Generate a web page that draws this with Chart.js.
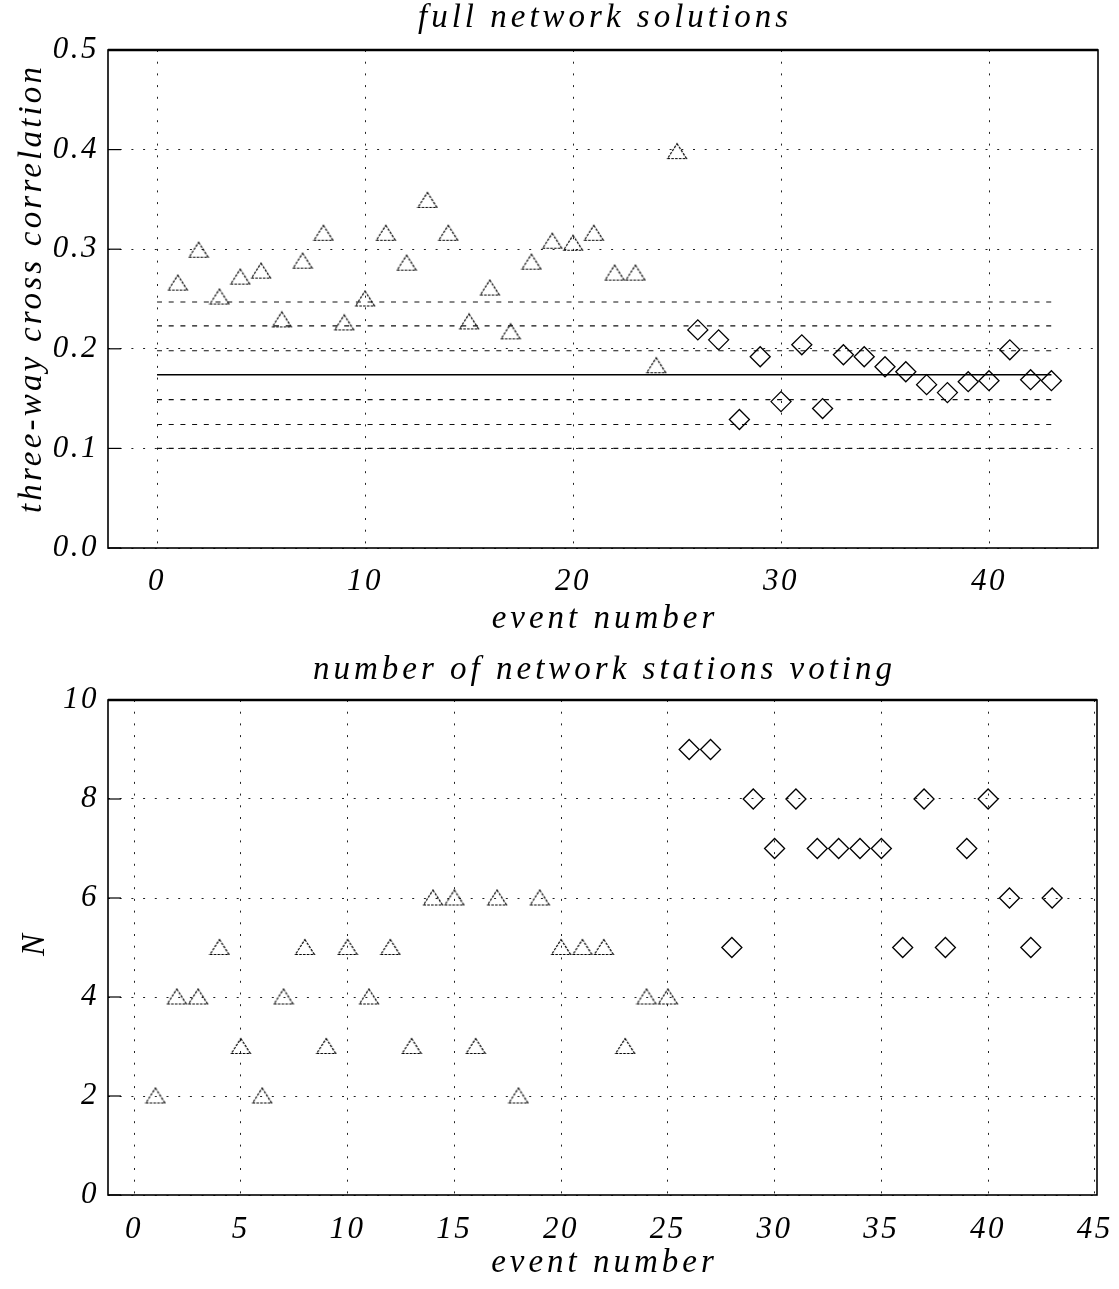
<!DOCTYPE html>
<html>
<head>
<meta charset="utf-8">
<script src="https://cdn.jsdelivr.net/npm/chart.js@4.4.0/dist/chart.umd.min.js"></script>
<style>
  body { margin: 0; background: #fff; }
  .panel { position: absolute; left: 0; width: 1119px; }
  #p1 { top: 0; height: 640px; }
  #p2 { top: 640px; height: 649px; }
</style>
</head>
<body>
<div class="panel" id="p1"><canvas id="corr" width="1119" height="640"></canvas></div>
<div class="panel" id="p2"><canvas id="votes" width="1119" height="649"></canvas></div>
<script>
// events 1-25 (triangles) and 26-43 (diamonds)
const eventsA = [1,2,3,4,5,6,7,8,9,10,11,12,13,14,15,16,17,18,19,20,21,22,23,24,25];
const eventsB = [26,27,28,29,30,31,32,33,34,35,36,37,38,39,40,41,42,43];

// three-way cross correlation
const corrA = [0.266,0.299,0.252,0.272,0.278,0.229,0.288,0.316,0.226,0.250,0.316,0.286,0.349,0.316,0.227,
               0.261,0.217,0.287,0.308,0.306,0.316,0.276,0.276,0.183,0.398];
const corrB = [0.219,0.209,0.129,0.192,0.147,0.204,0.140,0.194,0.192,0.182,0.177,0.164,0.156,0.167,0.168,
               0.199,0.169,0.168];

// mean line and the +/- bands drawn across events 0..43
const meanLevel = 0.174;
const bandLevels = [0.100,0.124,0.149,0.198,0.223,0.247];
const bandSpan = [0, 43];

// number of stations voting
const votesA = [2,4,4,5,3,2,4,5,3,5,4,5,3,6,6,3,6,2,6,5,5,5,3,4,4];
const votesB = [9,9,5,8,7,8,7,7,7,7,5,8,5,7,8,6,5,6];

const FONT = '"Liberation Serif", "DejaVu Serif", serif';
const tickFont = { family: FONT, size: 31, style: 'italic' };
const LABEL = 'italic 33px ' + FONT;

// dotted hollow triangle used as the point style
function triangleMarker() {
  const c = document.createElement('canvas');
  c.width = 22; c.height = 19;
  const g = c.getContext('2d');
  g.strokeStyle = '#000';
  g.lineWidth = 1.2;
  g.setLineDash([2.6, 1.2]);
  g.beginPath();
  g.moveTo(11, 1.5); g.lineTo(20.5, 16.5); g.lineTo(1.5, 16.5); g.closePath();
  g.stroke();
  return c;
}
const tri = triangleMarker();

function label(ctx, text, x, y, rot, spacing) {
  ctx.save();
  ctx.translate(x, y);
  if (rot) ctx.rotate(rot);
  ctx.font = LABEL;
  ctx.letterSpacing = spacing + 'px';
  ctx.fillStyle = '#000';
  ctx.textAlign = 'center';
  ctx.textBaseline = 'middle';
  ctx.fillText(text, spacing / 2, 0);
  ctx.restore();
}

// frame, inward ticks on the left side, and the titles
const frame = {
  id: 'frame',
  beforeUpdate(chart) { chart.ctx.letterSpacing = '2.5px'; },
  beforeDraw(chart) { chart.ctx.letterSpacing = '2.5px'; },
  afterDraw(chart, args, o) {
    const { ctx, chartArea: a, scales } = chart;
    ctx.save();
    ctx.letterSpacing = '0px';
    ctx.strokeStyle = '#000';
    ctx.lineWidth = 1.6;
    ctx.strokeRect(a.left, a.top, a.right - a.left, a.bottom - a.top);
    ctx.lineWidth = 2.4;
    ctx.beginPath();
    ctx.moveTo(a.left, a.top);
    ctx.lineTo(a.right, a.top);
    ctx.stroke();
    ctx.lineWidth = 1.2;
    scales.y.ticks.forEach(t => {
      const py = scales.y.getPixelForValue(t.value);
      ctx.beginPath();
      ctx.moveTo(a.left, py);
      ctx.lineTo(a.left + 13, py);
      ctx.stroke();
    });
    ctx.restore();
    const cx = (a.left + a.right) / 2;
    label(ctx, o.title, cx, o.titleY, 0, 4);
    label(ctx, o.xTitle, cx, o.xTitleY, 0, 4);
    label(ctx, o.yTitle, o.yTitleX, o.yTitleY, -Math.PI / 2, 3.2);
  }
};

const gridOpts = { color: '#222', lineWidth: 1, drawTicks: false };
const borderOpts = { display: false, dash: [2, 9.7] };
const noEdgePad = s => { s.paddingLeft = 0; s.paddingRight = 0; };

function pts(xs, ys) { return xs.map((x, i) => ({ x: x, y: ys[i] })); }

const triSet = (data) => ({
  data: data, pointStyle: tri, pointRadius: 10, pointHoverRadius: 10, showLine: false, order: 1
});
const diaSet = (data) => ({
  data: data, pointStyle: 'rectRot', pointRadius: 10, pointHoverRadius: 10,
  borderColor: '#000', backgroundColor: 'rgba(0,0,0,0)', borderWidth: 1.3, showLine: false, order: 1
});

const lineSets = bandLevels.map(v => ({
  data: [{ x: bandSpan[0], y: v }, { x: bandSpan[1], y: v }],
  showLine: true, pointRadius: 0, borderColor: '#111', borderWidth: 1.1, borderDash: [5, 6.7], order: 2
}));
lineSets.push({
  data: [{ x: bandSpan[0], y: meanLevel }, { x: bandSpan[1], y: meanLevel }],
  showLine: true, pointRadius: 0, borderColor: '#000', borderWidth: 1.6, order: 2
});

new Chart(document.getElementById('corr'), {
  type: 'scatter',
  data: { datasets: [triSet(pts(eventsA, corrA)), diaSet(pts(eventsB, corrB))].concat(lineSets) },
  options: {
    responsive: false,
    animation: false,
    layout: { padding: { left: 0, right: 21, top: 50, bottom: 0 } },
    plugins: {
      legend: { display: false },
      tooltip: { enabled: false },
      frame: {
        title: 'full network solutions', titleY: 18,
        xTitle: 'event number', xTitleY: 619,
        yTitle: 'three-way cross correlation', yTitleX: 32, yTitleY: 290
      }
    },
    scales: {
      x: {
        type: 'linear', min: -2.356, max: 45.24,
        afterFit: s => { s.height = 92; noEdgePad(s); },
        grid: gridOpts, border: borderOpts,
        ticks: { stepSize: 10, includeBounds: false, padding: 15, color: '#000', font: tickFont }
      },
      y: {
        min: 0, max: 0.5,
        afterFit: s => { s.width = 108; },
        grid: gridOpts, border: borderOpts,
        ticks: { stepSize: 0.1, padding: 9, color: '#000', font: tickFont, callback: v => v.toFixed(1) }
      }
    }
  },
  plugins: [frame]
});

new Chart(document.getElementById('votes'), {
  type: 'scatter',
  data: { datasets: [triSet(pts(eventsA, votesA)), diaSet(pts(eventsB, votesB))] },
  options: {
    responsive: false,
    animation: false,
    layout: { padding: { left: 0, right: 22, top: 60, bottom: 0 } },
    plugins: {
      legend: { display: false },
      tooltip: { enabled: false },
      frame: {
        title: 'number of network stations voting', titleY: 30,
        xTitle: 'event number', xTitleY: 623,
        yTitle: 'N', yTitleX: 35, yTitleY: 305
      }
    },
    scales: {
      x: {
        type: 'linear', min: -1.22, max: 45.1,
        afterFit: s => { s.height = 94; noEdgePad(s); },
        grid: gridOpts, border: borderOpts,
        ticks: { stepSize: 5, includeBounds: false, padding: 16, color: '#000', font: tickFont }
      },
      y: {
        min: 0, max: 10,
        afterFit: s => { s.width = 108; },
        grid: gridOpts, border: borderOpts,
        ticks: { stepSize: 2, padding: 9, color: '#000', font: tickFont }
      }
    }
  },
  plugins: [frame]
});
</script>
</body>
</html>
